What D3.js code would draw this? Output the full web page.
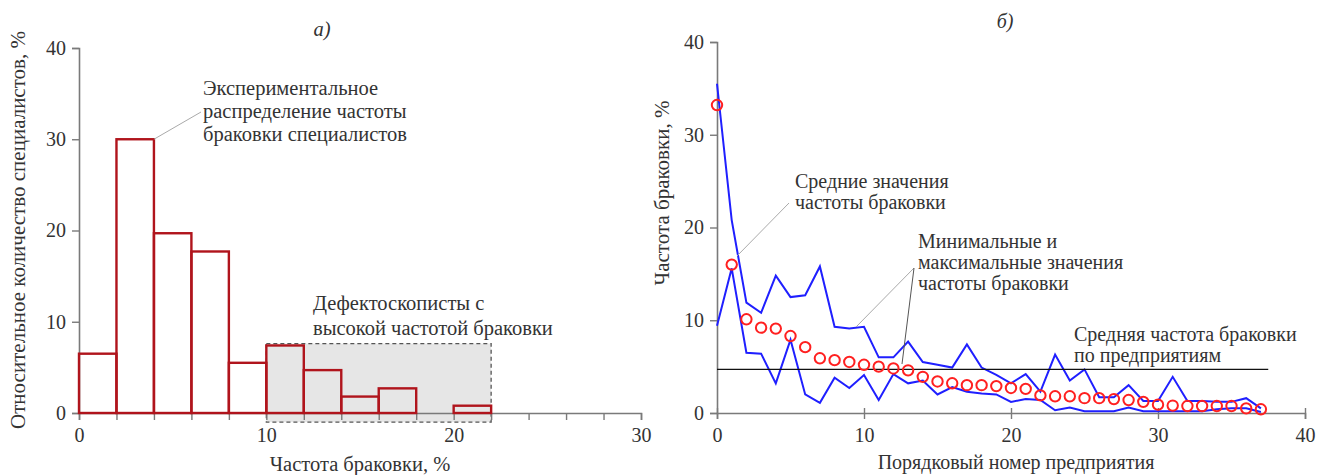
<!DOCTYPE html>
<html><head><meta charset="utf-8">
<script src="https://cdn.jsdelivr.net/npm/d3@7"></script>
<style>
body{margin:0;background:#fff}
text{font-family:"Liberation Serif","Times New Roman",serif;fill:#333}
</style>
</head><body>
<svg id="chart" width="1317" height="475"></svg>
<script>
// Panel а: histogram of reject frequency among specialists (bins 2 % wide)
const binStarts = [0, 2, 4, 6, 8, 10, 12, 14, 16, 18, 20];
const binShares = [6.5, 30, 19.7, 17.7, 5.5, 7.4, 4.7, 1.8, 2.7, 0, 0.8];
const histXTicks = [0, 10, 20, 30];
const histYTicks = [0, 10, 20, 30, 40];
const highZone = {from: 10, to: 22, top: 7.6, bottom: -1.0};

// Panel б: reject frequency per enterprise (ordinal number 0..37)
const enterprise = d3.range(0, 38);
const meanRate = [33.2, 16.0, 10.1, 9.2, 9.1, 8.3, 7.1, 5.9, 5.7, 5.5,
                  5.2, 5.0, 4.8, 4.6, 3.9, 3.4, 3.2, 3.0, 3.0, 2.9,
                  2.7, 2.6, 1.9, 1.8, 1.8, 1.6, 1.6, 1.5, 1.4, 1.2,
                  0.9, 0.8, 0.75, 0.75, 0.75, 0.75, 0.5, 0.4];
const maxRate  = [35.5, 20.8, 11.9, 10.8, 14.8, 12.5, 12.7, 15.8, 9.3, 9.1,
                  9.3, 6.0, 6.0, 7.7, 5.5, 5.2, 4.9, 7.4, 4.9, 4.1,
                  3.2, 4.2, 2.3, 6.3, 3.5, 4.7, 1.7, 1.7, 3.0, 1.3,
                  1.3, 3.9, 1.3, 1.3, 1.2, 1.2, 1.6, 0.5];
const minRate  = [9.4, 15.6, 6.5, 6.4, 3.2, 7.9, 2.0, 1.1, 3.8, 2.7,
                  4.1, 1.4, 4.2, 3.2, 3.5, 2.0, 2.8, 2.3, 2.1, 2.0,
                  1.2, 1.5, 1.4, 0.3, 0.6, 0.2, 0.2, 0.2, 0.6, 0.2,
                  0.2, 0.2, 0.2, 0.2, 0.4, 0.5, 0.5, 0.1];
const overallMean = 4.7;
const lineXTicks = [0, 10, 20, 30, 40];
const lineYTicks = [0, 10, 20, 30, 40];

const svg = d3.select("#chart");
const AXIS = "#7a7a7a";
const FS_TICK = 20;
const FS_LEFT = 20.5;
const FS_RIGHT = 20;
const FS_TITLE = 21;

function styleAxis(g) {
  g.selectAll("path.domain").attr("stroke", AXIS).attr("stroke-width", 1.6);
  g.selectAll(".tick line").attr("stroke", AXIS).attr("stroke-width", 1.4);
  g.selectAll(".tick text").attr("font-size", FS_TICK)
    .attr("font-family", '"Liberation Serif",serif').attr("fill", "#333");
}

function multiline(x, y, lines, dy, fs) {
  const t = svg.append("text").attr("x", x).attr("y", y).attr("font-size", fs);
  lines.forEach((s, i) => t.append("tspan").attr("x", x).attr("dy", i ? dy : 0).text(s));
  return t;
}

/* ---------- panel а ---------- */
const hx = d3.scaleLinear().domain([0, 30]).range([79, 641]);
const hy = d3.scaleLinear().domain([0, 40]).range([413, 48]);

// shaded zone of high reject frequency
svg.append("rect")
  .attr("x", hx(highZone.from)).attr("y", hy(highZone.top))
  .attr("width", hx(highZone.to) - hx(highZone.from))
  .attr("height", hy(highZone.bottom) - hy(highZone.top))
  .attr("fill", "#e6e6e6").attr("stroke", "#555")
  .attr("stroke-width", 1.3).attr("stroke-dasharray", "4,3");

svg.append("g").attr("transform", `translate(${hx(0)},0)`)
  .call(d3.axisLeft(hy).tickValues(histYTicks).tickSize(7).tickPadding(6))
  .call(styleAxis);

svg.append("g").attr("transform", `translate(0,${hy(0)})`)
  .call(d3.axisBottom(hx).tickValues(d3.range(0, 31, 2)).tickSize(7).tickPadding(8)
        .tickFormat(d => histXTicks.includes(d) ? d : ""))
  .call(styleAxis);

const bins = binStarts.map((s, i) => ({s, v: binShares[i]})).filter(d => d.v > 0);
svg.append("g").selectAll("rect").data(bins).join("rect")
  .attr("x", d => hx(d.s)).attr("y", d => hy(d.v))
  .attr("width", d => hx(d.s + 2) - hx(d.s))
  .attr("height", d => hy(0) - hy(d.v))
  .attr("fill", "none").attr("stroke", "#b0141c").attr("stroke-width", 2.4);

// labels
svg.append("text").attr("x", 322).attr("y", 36).attr("font-size", FS_LEFT)
  .attr("font-style", "italic").attr("text-anchor", "middle").text("а)");
svg.append("text").attr("transform", "translate(25,230) rotate(-90)")
  .attr("text-anchor", "middle").attr("font-size", FS_TITLE)
  .text("Относительное количество специалистов, %");
svg.append("text").attr("x", 360).attr("y", 471).attr("text-anchor", "middle")
  .attr("font-size", FS_LEFT).text("Частота браковки, %");

svg.append("line").attr("x1", hx(4)).attr("y1", hy(30))
  .attr("x2", 201).attr("y2", 112).attr("stroke", "#aaa").attr("stroke-width", 1);
multiline(203, 95, ["Экспериментальное", "распределение частоты", "браковки специалистов"], 23, FS_LEFT);
multiline(313, 310, ["Дефектоскописты с", "высокой частотой браковки"], 25, FS_LEFT);

/* ---------- panel б ---------- */
const lx = d3.scaleLinear().domain([0, 40]).range([717, 1305]);
const ly = d3.scaleLinear().domain([0, 40]).range([413, 42]);

svg.append("g").attr("transform", `translate(${lx(0)},0)`)
  .call(d3.axisLeft(ly).tickValues(lineYTicks).tickSize(7).tickPadding(6))
  .call(styleAxis);
const xb = svg.append("g").attr("transform", `translate(0,${ly(0)})`)
  .call(d3.axisBottom(lx).tickValues(lineXTicks).tickSize(6).tickPadding(9))
  .call(styleAxis);
xb.selectAll(".tick line").attr("y1", -5);

const lineGen = arr => d3.line().x((d, i) => lx(enterprise[i])).y(d => ly(d))(arr);
[maxRate, minRate].forEach(arr => {
  svg.append("path").attr("d", lineGen(arr)).attr("fill", "none")
    .attr("stroke", "#1f1fff").attr("stroke-width", 2).attr("stroke-linejoin", "miter");
});

svg.append("line").attr("x1", lx(0)).attr("x2", lx(37.5))
  .attr("y1", ly(overallMean)).attr("y2", ly(overallMean))
  .attr("stroke", "#111").attr("stroke-width", 1.4);

svg.append("g").selectAll("circle").data(meanRate).join("circle")
  .attr("cx", (d, i) => lx(enterprise[i])).attr("cy", d => ly(d)).attr("r", 5.2)
  .attr("fill", "none").attr("stroke", "#ff2020").attr("stroke-width", 2);

svg.append("text").attr("x", 1005).attr("y", 28).attr("font-size", FS_RIGHT)
  .attr("font-style", "italic").attr("text-anchor", "middle").text("б)");
svg.append("text").attr("transform", "translate(669,193) rotate(-90)")
  .attr("text-anchor", "middle").attr("font-size", FS_TITLE).text("Частота браковки, %");
svg.append("text").attr("x", 1016).attr("y", 469).attr("text-anchor", "middle")
  .attr("font-size", FS_RIGHT).text("Порядковый номер предприятия");

// leader lines
svg.append("line").attr("x1", 737).attr("y1", 256).attr("x2", 789).attr("y2", 203)
  .attr("stroke", "#aaa").attr("stroke-width", 1);
svg.append("line").attr("x1", 914).attr("y1", 268).attr("x2", 856).attr("y2", 327)
  .attr("stroke", "#aaa").attr("stroke-width", 1);
svg.append("line").attr("x1", 914).attr("y1", 268).attr("x2", 902).attr("y2", 364)
  .attr("stroke", "#555").attr("stroke-width", 1);

multiline(795, 188, ["Средние значения", "частоты браковки"], 21, FS_RIGHT);
multiline(918, 248, ["Минимальные и", "максимальные значения", "частоты браковки"], 21, FS_RIGHT);
multiline(1074, 341, ["Средняя частота браковки", "по предприятиям"], 21, FS_RIGHT);
</script>
</body></html>
